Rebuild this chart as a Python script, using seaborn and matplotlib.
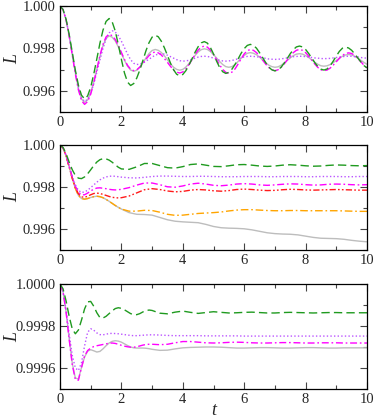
import numpy as np
import matplotlib
matplotlib.use("Agg")
import matplotlib.pyplot as plt
from matplotlib.ticker import MultipleLocator, FormatStrFormatter
import seaborn as sns

# ---------------- data ----------------
t1 = np.round(np.arange(0, 101) * 0.1, 2)

p1_green = [1.00000, 0.99983, 0.99936, 0.99865, 0.99781, 0.99697, 0.99626, 0.99579, 0.99562,
            0.99576, 0.99617, 0.99679, 0.99751, 0.99824, 0.99886, 0.99927, 0.99941,
            0.99925, 0.99882, 0.99818, 0.99748, 0.99684, 0.99641, 0.99625,
            0.99634, 0.99660, 0.99698, 0.99743, 0.99789, 0.99827, 0.99853, 0.99862,
            0.99855, 0.99834, 0.99803, 0.99767, 0.99730, 0.99699, 0.99678, 0.99671,
            0.99677, 0.99695, 0.99721, 0.99751, 0.99782, 0.99808, 0.99826, 0.99832,
            0.99825, 0.99804, 0.99774, 0.99740, 0.99710, 0.99690, 0.99682,
            0.99687, 0.99702, 0.99724, 0.99750, 0.99777, 0.99799, 0.99814, 0.99819,
            0.99814, 0.99801, 0.99780, 0.99757, 0.99733, 0.99712, 0.99699, 0.99694,
            0.99698, 0.99711, 0.99730, 0.99752, 0.99775, 0.99794, 0.99807, 0.99811,
            0.99807, 0.99795, 0.99776, 0.99755, 0.99733, 0.99714, 0.99702, 0.99698,
            0.99703, 0.99718, 0.99740, 0.99764, 0.99786, 0.99801, 0.99806,
            0.99802, 0.99791, 0.99774, 0.99755, 0.99736, 0.99719, 0.99708]

p1_magenta = [1.00000, 0.99982, 0.99932, 0.99857, 0.99768, 0.99679, 0.99604, 0.99554, 0.99536,
              0.99549, 0.99584, 0.99638, 0.99701, 0.99765, 0.99819, 0.99854, 0.99867,
              0.99860, 0.99842, 0.99814, 0.99781, 0.99748, 0.99720, 0.99702, 0.99695,
              0.99699, 0.99712, 0.99729, 0.99749, 0.99766, 0.99779, 0.99783,
              0.99779, 0.99769, 0.99752, 0.99734, 0.99715, 0.99698, 0.99688, 0.99684,
              0.99689, 0.99703, 0.99723, 0.99747, 0.99772, 0.99792, 0.99806, 0.99811,
              0.99806, 0.99792, 0.99771, 0.99747, 0.99722, 0.99701, 0.99687, 0.99682,
              0.99688, 0.99703, 0.99726, 0.99751, 0.99774, 0.99789, 0.99795,
              0.99791, 0.99780, 0.99764, 0.99745, 0.99726, 0.99710, 0.99699, 0.99695,
              0.99699, 0.99710, 0.99726, 0.99745, 0.99764, 0.99780, 0.99791, 0.99795,
              0.99791, 0.99780, 0.99764, 0.99745, 0.99726, 0.99710, 0.99699, 0.99695,
              0.99698, 0.99707, 0.99721, 0.99737, 0.99753, 0.99767, 0.99776, 0.99779,
              0.99776, 0.99767, 0.99753, 0.99737, 0.99721, 0.99707]

p1_gray = [1.00000, 0.99983, 0.99934, 0.99859, 0.99772, 0.99686, 0.99611, 0.99562, 0.99545,
           0.99557, 0.99591, 0.99642, 0.99702, 0.99762, 0.99813, 0.99847, 0.99859,
           0.99853, 0.99835, 0.99807, 0.99776, 0.99744, 0.99716, 0.99698, 0.99692,
           0.99697, 0.99711, 0.99732, 0.99755, 0.99776, 0.99790, 0.99795,
           0.99791, 0.99781, 0.99765, 0.99746, 0.99727, 0.99711, 0.99701, 0.99697,
           0.99701, 0.99712, 0.99728, 0.99747, 0.99767, 0.99783, 0.99794, 0.99798,
           0.99795, 0.99785, 0.99771, 0.99755, 0.99738, 0.99724, 0.99714, 0.99711,
           0.99714, 0.99724, 0.99738, 0.99753, 0.99767, 0.99777, 0.99780,
           0.99777, 0.99770, 0.99759, 0.99745, 0.99732, 0.99721, 0.99714, 0.99711,
           0.99713, 0.99720, 0.99731, 0.99743, 0.99755, 0.99766, 0.99773, 0.99775,
           0.99773, 0.99766, 0.99757, 0.99746, 0.99734, 0.99725, 0.99718, 0.99716,
           0.99718, 0.99724, 0.99733, 0.99743, 0.99754, 0.99763, 0.99769, 0.99771,
           0.99769, 0.99763, 0.99754, 0.99744, 0.99734, 0.99725]

p1_violet = [1.00000, 0.99983, 0.99934, 0.99861, 0.99775, 0.99689, 0.99616, 0.99567, 0.99550,
             0.99560, 0.99589, 0.99633, 0.99688, 0.99745, 0.99800, 0.99844, 0.99873, 0.99883,
             0.99877, 0.99860, 0.99834, 0.99804, 0.99773, 0.99747, 0.99730, 0.99724,
             0.99726, 0.99731, 0.99740, 0.99749, 0.99759, 0.99768, 0.99773, 0.99775,
             0.99773, 0.99768, 0.99761, 0.99754, 0.99747, 0.99742, 0.99740,
             0.99741, 0.99744, 0.99749, 0.99754, 0.99759, 0.99762, 0.99763,
             0.99762, 0.99759, 0.99754, 0.99749, 0.99744, 0.99741, 0.99740,
             0.99741, 0.99743, 0.99747, 0.99751, 0.99756, 0.99760, 0.99762, 0.99763,
             0.99762, 0.99761, 0.99758, 0.99756, 0.99753, 0.99750, 0.99749, 0.99748,
             0.99749, 0.99750, 0.99753, 0.99755, 0.99758, 0.99761, 0.99762, 0.99763,
             0.99763, 0.99761, 0.99760, 0.99757, 0.99755, 0.99754, 0.99752, 0.99752,
             0.99752, 0.99753, 0.99755, 0.99757, 0.99760, 0.99761, 0.99763, 0.99763,
             0.99763, 0.99761, 0.99760, 0.99757, 0.99755, 0.99754]

t2 = np.round(np.concatenate([np.arange(0, 21) * 0.1, 2.0 + np.arange(1, 33) * 0.25]), 2)

p2_gray = [1.00000, 0.99986, 0.99948, 0.99895, 0.99840, 0.99793, 0.99760, 0.99745, 0.99742, 0.99745,
           0.99750, 0.99754, 0.99756, 0.99754, 0.99749, 0.99741, 0.99732, 0.99722, 0.99712, 0.99703,
           0.99695,
           0.99678, 0.99670, 0.99669, 0.99666, 0.99655, 0.99644, 0.99637, 0.99634, 0.99632, 0.99630,
           0.99622, 0.99612, 0.99606, 0.99604, 0.99603, 0.99601, 0.99596, 0.99589, 0.99582, 0.99578,
           0.99576, 0.99575, 0.99572, 0.99566, 0.99560, 0.99556, 0.99555, 0.99554, 0.99551, 0.99546,
           0.99542, 0.99539]

p2_orange = [1.00000, 0.99986, 0.99948, 0.99895, 0.99840, 0.99793, 0.99760, 0.99745, 0.99742, 0.99745,
             0.99750, 0.99754, 0.99756, 0.99754, 0.99749, 0.99741, 0.99732, 0.99722, 0.99712, 0.99703,
             0.99695,
             0.99685, 0.99685, 0.99689, 0.99688, 0.99680, 0.99670, 0.99665, 0.99666, 0.99670, 0.99674,
             0.99676, 0.99678, 0.99681, 0.99686, 0.99690, 0.99692, 0.99692, 0.99690, 0.99688, 0.99687,
             0.99687, 0.99688, 0.99688, 0.99687, 0.99687, 0.99687, 0.99687, 0.99687, 0.99686, 0.99685,
             0.99684, 0.99684]

p2_red = [1.00000, 0.99986, 0.99948, 0.99895, 0.99842, 0.99797, 0.99767, 0.99753, 0.99751, 0.99756,
          0.99763, 0.99769, 0.99771, 0.99769, 0.99765, 0.99760, 0.99755, 0.99751, 0.99749, 0.99748,
          0.99749,
          0.99757, 0.99772, 0.99787, 0.99792, 0.99788, 0.99781, 0.99777, 0.99779, 0.99785, 0.99788,
          0.99786, 0.99782, 0.99780, 0.99783, 0.99788, 0.99790, 0.99788, 0.99785, 0.99783, 0.99784,
          0.99787, 0.99789, 0.99788, 0.99786, 0.99785, 0.99786, 0.99787, 0.99788, 0.99787, 0.99786,
          0.99785, 0.99785]

p2_magenta = [1.00000, 0.99986, 0.99950, 0.99898, 0.99847, 0.99804, 0.99775, 0.99763, 0.99763, 0.99771,
              0.99781, 0.99790, 0.99795, 0.99796, 0.99794, 0.99792, 0.99789, 0.99787, 0.99786, 0.99787,
              0.99789,
              0.99797, 0.99809, 0.99819, 0.99819, 0.99811, 0.99801, 0.99799, 0.99805, 0.99814, 0.99818,
              0.99814, 0.99808, 0.99806, 0.99809, 0.99814, 0.99816, 0.99814, 0.99810, 0.99808, 0.99810,
              0.99813, 0.99815, 0.99814, 0.99811, 0.99809, 0.99810, 0.99813, 0.99814, 0.99813, 0.99811,
              0.99810, 0.99811]

p2_violet = [1.00000, 0.99986, 0.99950, 0.99900, 0.99850, 0.99810, 0.99784, 0.99774, 0.99776, 0.99785,
             0.99797, 0.99810, 0.99823, 0.99834, 0.99842, 0.99848, 0.99851, 0.99852, 0.99851, 0.99849,
             0.99847,
             0.99844, 0.99843, 0.99846, 0.99850, 0.99852, 0.99852, 0.99851, 0.99850, 0.99850, 0.99851,
             0.99851, 0.99850, 0.99849, 0.99849, 0.99849, 0.99850, 0.99850, 0.99850, 0.99849, 0.99849,
             0.99850, 0.99850, 0.99850, 0.99849, 0.99849, 0.99850, 0.99850, 0.99850, 0.99849, 0.99849,
             0.99850, 0.99850]

p2_green = [1.00000, 0.99988, 0.99958, 0.99918, 0.99882, 0.99855, 0.99842, 0.99840, 0.99848, 0.99863,
            0.99882, 0.99902, 0.99919, 0.99930, 0.99935, 0.99934, 0.99928, 0.99918, 0.99906, 0.99894,
            0.99886,
            0.99884, 0.99896, 0.99912, 0.99912, 0.99902, 0.99892, 0.99890, 0.99897, 0.99907, 0.99910,
            0.99904, 0.99898, 0.99897, 0.99901, 0.99906, 0.99907, 0.99904, 0.99900, 0.99898, 0.99900,
            0.99904, 0.99906, 0.99904, 0.99901, 0.99899, 0.99900, 0.99903, 0.99905, 0.99904, 0.99902,
            0.99901, 0.99902]

t3 = np.round(np.concatenate([np.arange(0, 31) * 0.1, 3.0 + np.arange(1, 29) * 0.25]), 2)

p3_green = [1.000000, 0.999977, 0.999918, 0.999845, 0.999786, 0.999763, 0.999781, 0.999828, 0.999881,
            0.999915, 0.999917, 0.999894, 0.999863, 0.999840, 0.999838, 0.999846, 0.999859, 0.999872,
            0.999883, 0.999887, 0.999884, 0.999877, 0.999868, 0.999859, 0.999854, 0.999854, 0.999859,
            0.999867, 0.999873, 0.999876, 0.999874,
            0.999861, 0.999858, 0.999866, 0.999871, 0.999865, 0.999860, 0.999864, 0.999868, 0.999865,
            0.999862, 0.999863, 0.999865, 0.999866, 0.999864, 0.999862, 0.999862, 0.999864, 0.999865,
            0.999864, 0.999863, 0.999862, 0.999863, 0.999864, 0.999864, 0.999863, 0.999863, 0.999863,
            0.999863]

p3_magenta = [1.000000, 0.999963, 0.999864, 0.999735, 0.999616, 0.999545, 0.999542, 0.999602, 0.999657,
              0.999683, 0.999695, 0.999702, 0.999706, 0.999709, 0.999712, 0.999715, 0.999718, 0.999719,
              0.999717, 0.999713, 0.999708, 0.999704, 0.999701, 0.999699, 0.999699, 0.999701, 0.999705,
              0.999709, 0.999712, 0.999713, 0.999713,
              0.999711, 0.999713, 0.999720, 0.999726, 0.999726, 0.999723, 0.999720, 0.999719, 0.999720,
              0.999722, 0.999723, 0.999722, 0.999720, 0.999719, 0.999719, 0.999720, 0.999721, 0.999721,
              0.999720, 0.999719, 0.999719, 0.999720, 0.999720, 0.999720, 0.999719, 0.999719, 0.999719,
              0.999719]

p3_gray = [1.000000, 0.999963, 0.999865, 0.999738, 0.999622, 0.999552, 0.999548, 0.999602, 0.999652,
           0.999680, 0.999687, 0.999682, 0.999676, 0.999679, 0.999691, 0.999706, 0.999719, 0.999727,
           0.999730, 0.999728, 0.999723, 0.999715, 0.999707, 0.999700, 0.999696, 0.999695, 0.999695,
           0.999695, 0.999694, 0.999692, 0.999689,
           0.999684, 0.999685, 0.999691, 0.999696, 0.999698, 0.999699, 0.999700, 0.999700, 0.999699,
           0.999697, 0.999695, 0.999695, 0.999696, 0.999697, 0.999697, 0.999696, 0.999695, 0.999695,
           0.999696, 0.999697, 0.999697, 0.999696, 0.999695, 0.999695, 0.999696, 0.999696, 0.999696,
           0.999696]

p3_violet = [1.000000, 0.999965, 0.999875, 0.999760, 0.999660, 0.999600, 0.999588, 0.999625, 0.999705,
             0.999770, 0.999787, 0.999780, 0.999767, 0.999759, 0.999758, 0.999761, 0.999764, 0.999765,
             0.999764, 0.999763, 0.999761, 0.999759, 0.999757, 0.999755, 0.999754, 0.999754, 0.999755,
             0.999756, 0.999757, 0.999758, 0.999758,
             0.999757, 0.999755, 0.999754, 0.999754, 0.999754, 0.999754, 0.999753, 0.999753, 0.999753,
             0.999753, 0.999753, 0.999752, 0.999752, 0.999752, 0.999752, 0.999752, 0.999752, 0.999752,
             0.999752, 0.999752, 0.999752, 0.999752, 0.999752, 0.999752, 0.999752, 0.999752, 0.999752,
             0.999752]

x_ticks = [0, 2, 4, 6, 8, 10]
ylim12 = (0.995, 1.000)
ylim3 = (0.9995, 1.0000)

# ---------------- style ----------------
sns.set_style("ticks")
plt.rcParams["font.family"] = ["Liberation Serif", "DejaVu Serif"]
plt.rcParams["lines.scale_dashes"] = False

COL = {
    "green": "#1f9a1f",
    "magenta": "#ff00ff",
    "gray": "#bdbdbd",
    "violet": "#bb55ff",
    "red": "#ff1a1a",
    "orange": "#ffa500",
}
LS = {
    "green": (0, (6.0, 3.0)),
    "magenta": (0, (5.0, 2.0, 1.2, 2.0)),
    "gray": "-",
    "violet": (0, (1.0, 1.6)),
    "red": (0, (4.5, 1.6, 1.2, 1.6, 1.2, 1.6)),
    "orange": (0, (5.5, 2.0, 1.2, 2.0)),
}

fig = plt.figure(figsize=(3.74, 4.20), dpi=100)
W = 307 / 374
L0 = 60 / 374
ax1 = fig.add_axes([L0, 308 / 420, W, 106 / 420])
ax2 = fig.add_axes([L0, 170 / 420, W, 105 / 420])
ax3 = fig.add_axes([L0, 31 / 420, W, 105 / 420])


def draw(ax, t, y, key):
    sns.lineplot(x=t, y=y, ax=ax, color=COL[key], linewidth=1.0,
                 errorbar=None, estimator=None, sort=False)
    ln = ax.lines[-1]
    ln.set_linestyle(LS[key])


draw(ax1, t1, p1_gray, "gray")
draw(ax1, t1, p1_violet, "violet")
draw(ax1, t1, p1_magenta, "magenta")
draw(ax1, t1, p1_green, "green")

draw(ax2, t2, p2_gray, "gray")
draw(ax2, t2, p2_orange, "orange")
draw(ax2, t2, p2_red, "red")
draw(ax2, t2, p2_magenta, "magenta")
draw(ax2, t2, p2_violet, "violet")
draw(ax2, t2, p2_green, "green")

draw(ax3, t3, p3_gray, "gray")
draw(ax3, t3, p3_violet, "violet")
draw(ax3, t3, p3_magenta, "magenta")
draw(ax3, t3, p3_green, "green")

for ax, ylim, fmt, step in [(ax1, ylim12, "%.3f", 0.002), (ax2, ylim12, "%.3f", 0.002),
                            (ax3, ylim3, "%.4f", 0.0002)]:
    ax.set_xlim(0, 10)
    ax.set_ylim(*ylim)
    ax.set_xticks(x_ticks)
    ax.xaxis.set_minor_locator(MultipleLocator(1))
    ax.yaxis.set_major_locator(MultipleLocator(step))
    ax.yaxis.set_minor_locator(MultipleLocator(step / 2))
    ax.yaxis.set_major_formatter(FormatStrFormatter(fmt))
    ax.tick_params(which="both", direction="in", top=True, right=True,
                   labelsize=10.5, color="#444444", width=0.8, pad=3)
    ax.tick_params(which="major", length=5)
    ax.tick_params(which="minor", length=3)
    for s in ax.spines.values():
        s.set_linewidth(0.9)
        s.set_color("black")
    ax.set_ylabel("L", fontsize=13, style="italic", va="center", ha="center")
    ax.yaxis.set_label_coords(-0.155, 0.5)
    ax.set_xlabel("")

ax3.set_xlabel("t", fontsize=13, style="italic")
ax3.xaxis.set_label_coords(0.5, -0.12)

fig.savefig("out.png", dpi=100)
